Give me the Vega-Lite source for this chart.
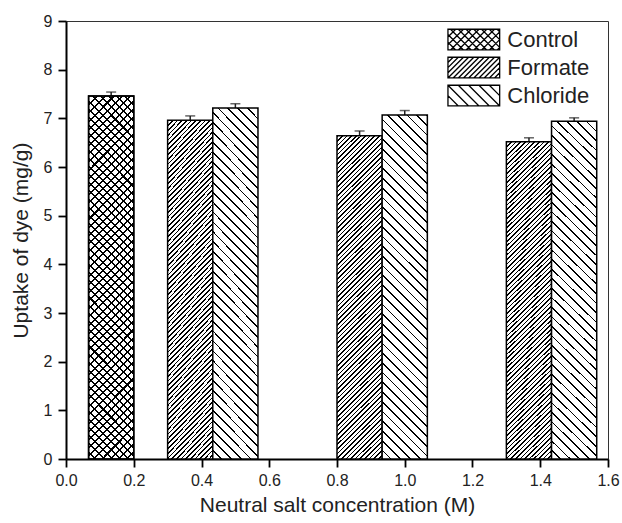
{
"$schema": "https://vega.github.io/schema/vega-lite/v6.json",
"width": 542, "height": 438,
"autosize": "none",
"padding": {"left": 66, "top": 21, "right": 14, "bottom": 64},
"background": "white",
"config": {
 "view": {"stroke": "#333", "strokeWidth": 1},
 "font": "Liberation Sans",
 "axis": {"domainColor": "black", "domainWidth": 2, "tickColor": "black", "tickWidth": 1.8, "labelFontSize": 16, "labelColor": "#222", "titleFontSize": 21, "titleFontWeight": "normal", "titleColor": "#222", "grid": false, "labelFont": "Liberation Sans", "titleFont": "Liberation Sans", "labelOverlap": false, "labelFlush": false, "labelBound": false}
},
"data": {"values": [
 {"salt": "Control", "conc": 0, "x0": 0.0667, "x1": 0.2, "xc": 0.1333, "uptake": 7.46, "hi": 7.54},
 {"salt": "Formate", "conc": 0.5, "x0": 0.3, "x1": 0.4333, "xc": 0.3667, "uptake": 6.96, "hi": 7.05},
 {"salt": "Chloride", "conc": 0.5, "x0": 0.4333, "x1": 0.5667, "xc": 0.5, "uptake": 7.21, "hi": 7.3},
 {"salt": "Formate", "conc": 1.0, "x0": 0.8, "x1": 0.9333, "xc": 0.8667, "uptake": 6.64, "hi": 6.74},
 {"salt": "Chloride", "conc": 1.0, "x0": 0.9333, "x1": 1.0667, "xc": 1.0, "uptake": 7.07, "hi": 7.16},
 {"salt": "Formate", "conc": 1.5, "x0": 1.3, "x1": 1.4333, "xc": 1.3667, "uptake": 6.52, "hi": 6.6},
 {"salt": "Chloride", "conc": 1.5, "x0": 1.4333, "x1": 1.5667, "xc": 1.5, "uptake": 6.94, "hi": 7.01}
]},
"layer": [
 {"mark": {"type": "point", "opacity": 0, "color": "black", "filled": false},
  "encoding": {
   "x": {"field": "xc", "type": "quantitative", "scale": {"domain": [0, 1.6], "nice": false}, "title": "Neutral salt concentration (M)",
    "axis": {"values": [0,0.1,0.2,0.3,0.4,0.5,0.6,0.7,0.8,0.9,1.0,1.1,1.2,1.3,1.4,1.5,1.6], "labelExpr": "round(datum.value*10)%2==0 ? format(datum.value,'.1f') : ''", "tickSize": {"condition": {"test": "round(datum.value*10)%2==0", "value": 8}, "value": 5}, "labelPadding": 5, "titlePadding": 6}},
   "y": {"field": "uptake", "type": "quantitative", "scale": {"domain": [0, 9], "nice": false}, "title": "Uptake of dye (mg/g)",
    "axis": {"values": [0,0.5,1,1.5,2,2.5,3,3.5,4,4.5,5,5.5,6,6.5,7,7.5,8,8.5,9], "labelExpr": "datum.value%1==0 ? format(datum.value,'d') : ''", "tickSize": {"condition": {"test": "datum.value%1==0", "value": 8}, "value": 5}, "labelPadding": 6, "titlePadding": 12}},
   "shape": {"field": "salt", "type": "nominal",
    "scale": {"domain": ["Control", "Formate", "Chloride"], "range": [
     "M-1,-1H4V1H-1Z M-1,-0.25L-0.25,-1 M-1,0.5L0.5,-1 M-0.75,1L1.25,-1 M0,1L2,-1 M0.75,1L2.75,-1 M1.5,1L3.5,-1 M2.25,1L4,-0.75 M3,1L4,0 M3.75,1L4,0.75 M-1,0.25L-0.25,1 M-1,-0.5L0.5,1 M-0.75,-1L1.25,1 M0,-1L2,1 M0.75,-1L2.75,1 M1.5,-1L3.5,1 M2.25,-1L4,0.75 M3,-1L4,0 M3.75,-1L4,-0.75",
     "M-1,-1H4V1H-1Z M-1,-0.5L-0.5,-1 M-1,0L0,-1 M-1,0.5L0.5,-1 M-1,1L1,-1 M-0.5,1L1.5,-1 M0,1L2,-1 M0.5,1L2.5,-1 M1,1L3,-1 M1.5,1L3.5,-1 M2,1L4,-1 M2.5,1L4,-0.5 M3,1L4,0 M3.5,1L4,0.5",
     "M-1,-1H4V1H-1Z M-1,0L0,1 M-1,-1L1,1 M0,-1L2,1 M1,-1L3,1 M2,-1L4,1 M3,-1L4,0"]},
    "legend": {"title": null, "orient": "none", "legendX": 381.3, "legendY": 7.6, "padding": 0, "symbolSize": 428, "symbolStrokeWidth": 1.3, "symbolOpacity": 1, "symbolStrokeColor": "black", "labelFontSize": 22, "labelOffset": 38, "rowPadding": 2, "labelColor": "#222", "labelFont": "Liberation Sans"}}
  }},
 {"mark": {"type": "rule", "color": "#222", "strokeWidth": 1.5},
  "encoding": {"x": {"field": "xc", "type": "quantitative"}, "y": {"field": "uptake", "type": "quantitative"}, "y2": {"field": "hi"}}},
 {"mark": {"type": "tick", "orient": "horizontal", "color": "#222", "size": 10, "thickness": 1.5},
  "encoding": {"x": {"field": "xc", "type": "quantitative"}, "y": {"field": "hi", "type": "quantitative"}}},
 {"transform": [{"filter": "datum.salt == 'Formate'"}],
  "mark": {"type": "bar", "stroke": "black", "strokeWidth": 1.5, "fill": {"gradient": "linear", "x1": 0, "y1": 0, "x2": 0.155, "y2": 1.117, "stops": [
{"offset":0,"color":"#000"},{"offset":0.0045,"color":"#000"},{"offset":0.0045,"color":"#fff"},{"offset":0.0125,"color":"#fff"},
{"offset":0.0125,"color":"#000"},{"offset":0.017,"color":"#000"},{"offset":0.017,"color":"#fff"},{"offset":0.025,"color":"#fff"},
{"offset":0.025,"color":"#000"},{"offset":0.0295,"color":"#000"},{"offset":0.0295,"color":"#fff"},{"offset":0.0375,"color":"#fff"},
{"offset":0.0375,"color":"#000"},{"offset":0.042,"color":"#000"},{"offset":0.042,"color":"#fff"},{"offset":0.05,"color":"#fff"},
{"offset":0.05,"color":"#000"},{"offset":0.0545,"color":"#000"},{"offset":0.0545,"color":"#fff"},{"offset":0.0625,"color":"#fff"},
{"offset":0.0625,"color":"#000"},{"offset":0.067,"color":"#000"},{"offset":0.067,"color":"#fff"},{"offset":0.075,"color":"#fff"},
{"offset":0.075,"color":"#000"},{"offset":0.0795,"color":"#000"},{"offset":0.0795,"color":"#fff"},{"offset":0.0875,"color":"#fff"},
{"offset":0.0875,"color":"#000"},{"offset":0.092,"color":"#000"},{"offset":0.092,"color":"#fff"},{"offset":0.1,"color":"#fff"},
{"offset":0.1,"color":"#000"},{"offset":0.1045,"color":"#000"},{"offset":0.1045,"color":"#fff"},{"offset":0.1125,"color":"#fff"},
{"offset":0.1125,"color":"#000"},{"offset":0.117,"color":"#000"},{"offset":0.117,"color":"#fff"},{"offset":0.125,"color":"#fff"},
{"offset":0.125,"color":"#000"},{"offset":0.1295,"color":"#000"},{"offset":0.1295,"color":"#fff"},{"offset":0.1375,"color":"#fff"},
{"offset":0.1375,"color":"#000"},{"offset":0.142,"color":"#000"},{"offset":0.142,"color":"#fff"},{"offset":0.15,"color":"#fff"},
{"offset":0.15,"color":"#000"},{"offset":0.1545,"color":"#000"},{"offset":0.1545,"color":"#fff"},{"offset":0.1625,"color":"#fff"},
{"offset":0.1625,"color":"#000"},{"offset":0.167,"color":"#000"},{"offset":0.167,"color":"#fff"},{"offset":0.175,"color":"#fff"},
{"offset":0.175,"color":"#000"},{"offset":0.1795,"color":"#000"},{"offset":0.1795,"color":"#fff"},{"offset":0.1875,"color":"#fff"},
{"offset":0.1875,"color":"#000"},{"offset":0.192,"color":"#000"},{"offset":0.192,"color":"#fff"},{"offset":0.2,"color":"#fff"},
{"offset":0.2,"color":"#000"},{"offset":0.2045,"color":"#000"},{"offset":0.2045,"color":"#fff"},{"offset":0.2125,"color":"#fff"},
{"offset":0.2125,"color":"#000"},{"offset":0.217,"color":"#000"},{"offset":0.217,"color":"#fff"},{"offset":0.225,"color":"#fff"},
{"offset":0.225,"color":"#000"},{"offset":0.2295,"color":"#000"},{"offset":0.2295,"color":"#fff"},{"offset":0.2375,"color":"#fff"},
{"offset":0.2375,"color":"#000"},{"offset":0.242,"color":"#000"},{"offset":0.242,"color":"#fff"},{"offset":0.25,"color":"#fff"},
{"offset":0.25,"color":"#000"},{"offset":0.2545,"color":"#000"},{"offset":0.2545,"color":"#fff"},{"offset":0.2625,"color":"#fff"},
{"offset":0.2625,"color":"#000"},{"offset":0.267,"color":"#000"},{"offset":0.267,"color":"#fff"},{"offset":0.275,"color":"#fff"},
{"offset":0.275,"color":"#000"},{"offset":0.2795,"color":"#000"},{"offset":0.2795,"color":"#fff"},{"offset":0.2875,"color":"#fff"},
{"offset":0.2875,"color":"#000"},{"offset":0.292,"color":"#000"},{"offset":0.292,"color":"#fff"},{"offset":0.3,"color":"#fff"},
{"offset":0.3,"color":"#000"},{"offset":0.3045,"color":"#000"},{"offset":0.3045,"color":"#fff"},{"offset":0.3125,"color":"#fff"},
{"offset":0.3125,"color":"#000"},{"offset":0.317,"color":"#000"},{"offset":0.317,"color":"#fff"},{"offset":0.325,"color":"#fff"},
{"offset":0.325,"color":"#000"},{"offset":0.3295,"color":"#000"},{"offset":0.3295,"color":"#fff"},{"offset":0.3375,"color":"#fff"},
{"offset":0.3375,"color":"#000"},{"offset":0.342,"color":"#000"},{"offset":0.342,"color":"#fff"},{"offset":0.35,"color":"#fff"},
{"offset":0.35,"color":"#000"},{"offset":0.3545,"color":"#000"},{"offset":0.3545,"color":"#fff"},{"offset":0.3625,"color":"#fff"},
{"offset":0.3625,"color":"#000"},{"offset":0.367,"color":"#000"},{"offset":0.367,"color":"#fff"},{"offset":0.375,"color":"#fff"},
{"offset":0.375,"color":"#000"},{"offset":0.3795,"color":"#000"},{"offset":0.3795,"color":"#fff"},{"offset":0.3875,"color":"#fff"},
{"offset":0.3875,"color":"#000"},{"offset":0.392,"color":"#000"},{"offset":0.392,"color":"#fff"},{"offset":0.4,"color":"#fff"},
{"offset":0.4,"color":"#000"},{"offset":0.4045,"color":"#000"},{"offset":0.4045,"color":"#fff"},{"offset":0.4125,"color":"#fff"},
{"offset":0.4125,"color":"#000"},{"offset":0.417,"color":"#000"},{"offset":0.417,"color":"#fff"},{"offset":0.425,"color":"#fff"},
{"offset":0.425,"color":"#000"},{"offset":0.4295,"color":"#000"},{"offset":0.4295,"color":"#fff"},{"offset":0.4375,"color":"#fff"},
{"offset":0.4375,"color":"#000"},{"offset":0.442,"color":"#000"},{"offset":0.442,"color":"#fff"},{"offset":0.45,"color":"#fff"},
{"offset":0.45,"color":"#000"},{"offset":0.4545,"color":"#000"},{"offset":0.4545,"color":"#fff"},{"offset":0.4625,"color":"#fff"},
{"offset":0.4625,"color":"#000"},{"offset":0.467,"color":"#000"},{"offset":0.467,"color":"#fff"},{"offset":0.475,"color":"#fff"},
{"offset":0.475,"color":"#000"},{"offset":0.4795,"color":"#000"},{"offset":0.4795,"color":"#fff"},{"offset":0.4875,"color":"#fff"},
{"offset":0.4875,"color":"#000"},{"offset":0.492,"color":"#000"},{"offset":0.492,"color":"#fff"},{"offset":0.5,"color":"#fff"},
{"offset":0.5,"color":"#000"},{"offset":0.5045,"color":"#000"},{"offset":0.5045,"color":"#fff"},{"offset":0.5125,"color":"#fff"},
{"offset":0.5125,"color":"#000"},{"offset":0.517,"color":"#000"},{"offset":0.517,"color":"#fff"},{"offset":0.525,"color":"#fff"},
{"offset":0.525,"color":"#000"},{"offset":0.5295,"color":"#000"},{"offset":0.5295,"color":"#fff"},{"offset":0.5375,"color":"#fff"},
{"offset":0.5375,"color":"#000"},{"offset":0.542,"color":"#000"},{"offset":0.542,"color":"#fff"},{"offset":0.55,"color":"#fff"},
{"offset":0.55,"color":"#000"},{"offset":0.5545,"color":"#000"},{"offset":0.5545,"color":"#fff"},{"offset":0.5625,"color":"#fff"},
{"offset":0.5625,"color":"#000"},{"offset":0.567,"color":"#000"},{"offset":0.567,"color":"#fff"},{"offset":0.575,"color":"#fff"},
{"offset":0.575,"color":"#000"},{"offset":0.5795,"color":"#000"},{"offset":0.5795,"color":"#fff"},{"offset":0.5875,"color":"#fff"},
{"offset":0.5875,"color":"#000"},{"offset":0.592,"color":"#000"},{"offset":0.592,"color":"#fff"},{"offset":0.6,"color":"#fff"},
{"offset":0.6,"color":"#000"},{"offset":0.6045,"color":"#000"},{"offset":0.6045,"color":"#fff"},{"offset":0.6125,"color":"#fff"},
{"offset":0.6125,"color":"#000"},{"offset":0.617,"color":"#000"},{"offset":0.617,"color":"#fff"},{"offset":0.625,"color":"#fff"},
{"offset":0.625,"color":"#000"},{"offset":0.6295,"color":"#000"},{"offset":0.6295,"color":"#fff"},{"offset":0.6375,"color":"#fff"},
{"offset":0.6375,"color":"#000"},{"offset":0.642,"color":"#000"},{"offset":0.642,"color":"#fff"},{"offset":0.65,"color":"#fff"},
{"offset":0.65,"color":"#000"},{"offset":0.6545,"color":"#000"},{"offset":0.6545,"color":"#fff"},{"offset":0.6625,"color":"#fff"},
{"offset":0.6625,"color":"#000"},{"offset":0.667,"color":"#000"},{"offset":0.667,"color":"#fff"},{"offset":0.675,"color":"#fff"},
{"offset":0.675,"color":"#000"},{"offset":0.6795,"color":"#000"},{"offset":0.6795,"color":"#fff"},{"offset":0.6875,"color":"#fff"},
{"offset":0.6875,"color":"#000"},{"offset":0.692,"color":"#000"},{"offset":0.692,"color":"#fff"},{"offset":0.7,"color":"#fff"},
{"offset":0.7,"color":"#000"},{"offset":0.7045,"color":"#000"},{"offset":0.7045,"color":"#fff"},{"offset":0.7125,"color":"#fff"},
{"offset":0.7125,"color":"#000"},{"offset":0.717,"color":"#000"},{"offset":0.717,"color":"#fff"},{"offset":0.725,"color":"#fff"},
{"offset":0.725,"color":"#000"},{"offset":0.7295,"color":"#000"},{"offset":0.7295,"color":"#fff"},{"offset":0.7375,"color":"#fff"},
{"offset":0.7375,"color":"#000"},{"offset":0.742,"color":"#000"},{"offset":0.742,"color":"#fff"},{"offset":0.75,"color":"#fff"},
{"offset":0.75,"color":"#000"},{"offset":0.7545,"color":"#000"},{"offset":0.7545,"color":"#fff"},{"offset":0.7625,"color":"#fff"},
{"offset":0.7625,"color":"#000"},{"offset":0.767,"color":"#000"},{"offset":0.767,"color":"#fff"},{"offset":0.775,"color":"#fff"},
{"offset":0.775,"color":"#000"},{"offset":0.7795,"color":"#000"},{"offset":0.7795,"color":"#fff"},{"offset":0.7875,"color":"#fff"},
{"offset":0.7875,"color":"#000"},{"offset":0.792,"color":"#000"},{"offset":0.792,"color":"#fff"},{"offset":0.8,"color":"#fff"},
{"offset":0.8,"color":"#000"},{"offset":0.8045,"color":"#000"},{"offset":0.8045,"color":"#fff"},{"offset":0.8125,"color":"#fff"},
{"offset":0.8125,"color":"#000"},{"offset":0.817,"color":"#000"},{"offset":0.817,"color":"#fff"},{"offset":0.825,"color":"#fff"},
{"offset":0.825,"color":"#000"},{"offset":0.8295,"color":"#000"},{"offset":0.8295,"color":"#fff"},{"offset":0.8375,"color":"#fff"},
{"offset":0.8375,"color":"#000"},{"offset":0.842,"color":"#000"},{"offset":0.842,"color":"#fff"},{"offset":0.85,"color":"#fff"},
{"offset":0.85,"color":"#000"},{"offset":0.8545,"color":"#000"},{"offset":0.8545,"color":"#fff"},{"offset":0.8625,"color":"#fff"},
{"offset":0.8625,"color":"#000"},{"offset":0.867,"color":"#000"},{"offset":0.867,"color":"#fff"},{"offset":0.875,"color":"#fff"},
{"offset":0.875,"color":"#000"},{"offset":0.8795,"color":"#000"},{"offset":0.8795,"color":"#fff"},{"offset":0.8875,"color":"#fff"},
{"offset":0.8875,"color":"#000"},{"offset":0.892,"color":"#000"},{"offset":0.892,"color":"#fff"},{"offset":0.9,"color":"#fff"},
{"offset":0.9,"color":"#000"},{"offset":0.9045,"color":"#000"},{"offset":0.9045,"color":"#fff"},{"offset":0.9125,"color":"#fff"},
{"offset":0.9125,"color":"#000"},{"offset":0.917,"color":"#000"},{"offset":0.917,"color":"#fff"},{"offset":0.925,"color":"#fff"},
{"offset":0.925,"color":"#000"},{"offset":0.9295,"color":"#000"},{"offset":0.9295,"color":"#fff"},{"offset":0.9375,"color":"#fff"},
{"offset":0.9375,"color":"#000"},{"offset":0.942,"color":"#000"},{"offset":0.942,"color":"#fff"},{"offset":0.95,"color":"#fff"},
{"offset":0.95,"color":"#000"},{"offset":0.9545,"color":"#000"},{"offset":0.9545,"color":"#fff"},{"offset":0.9625,"color":"#fff"},
{"offset":0.9625,"color":"#000"},{"offset":0.967,"color":"#000"},{"offset":0.967,"color":"#fff"},{"offset":0.975,"color":"#fff"},
{"offset":0.975,"color":"#000"},{"offset":0.9795,"color":"#000"},{"offset":0.9795,"color":"#fff"},{"offset":0.9875,"color":"#fff"},
{"offset":0.9875,"color":"#000"},{"offset":0.992,"color":"#000"},{"offset":0.992,"color":"#fff"},{"offset":1,"color":"#fff"}
  ]}},
  "encoding": {"x": {"field": "x0", "type": "quantitative"}, "x2": {"field": "x1"}, "y": {"field": "uptake", "type": "quantitative"}, "y2": {"datum": 0}}},
 {"transform": [{"filter": "datum.salt == 'Chloride'"}],
  "mark": {"type": "bar", "stroke": "black", "strokeWidth": 1.5, "fill": {"gradient": "linear", "x1": 1, "y1": 0, "x2": 0.854, "y2": 1.112, "stops": [
{"offset":0,"color":"#000"},{"offset":0.0045,"color":"#000"},{"offset":0.0045,"color":"#fff"},{"offset":0.025,"color":"#fff"},
{"offset":0.025,"color":"#000"},{"offset":0.0295,"color":"#000"},{"offset":0.0295,"color":"#fff"},{"offset":0.05,"color":"#fff"},
{"offset":0.05,"color":"#000"},{"offset":0.0545,"color":"#000"},{"offset":0.0545,"color":"#fff"},{"offset":0.075,"color":"#fff"},
{"offset":0.075,"color":"#000"},{"offset":0.0795,"color":"#000"},{"offset":0.0795,"color":"#fff"},{"offset":0.1,"color":"#fff"},
{"offset":0.1,"color":"#000"},{"offset":0.1045,"color":"#000"},{"offset":0.1045,"color":"#fff"},{"offset":0.125,"color":"#fff"},
{"offset":0.125,"color":"#000"},{"offset":0.1295,"color":"#000"},{"offset":0.1295,"color":"#fff"},{"offset":0.15,"color":"#fff"},
{"offset":0.15,"color":"#000"},{"offset":0.1545,"color":"#000"},{"offset":0.1545,"color":"#fff"},{"offset":0.175,"color":"#fff"},
{"offset":0.175,"color":"#000"},{"offset":0.1795,"color":"#000"},{"offset":0.1795,"color":"#fff"},{"offset":0.2,"color":"#fff"},
{"offset":0.2,"color":"#000"},{"offset":0.2045,"color":"#000"},{"offset":0.2045,"color":"#fff"},{"offset":0.225,"color":"#fff"},
{"offset":0.225,"color":"#000"},{"offset":0.2295,"color":"#000"},{"offset":0.2295,"color":"#fff"},{"offset":0.25,"color":"#fff"},
{"offset":0.25,"color":"#000"},{"offset":0.2545,"color":"#000"},{"offset":0.2545,"color":"#fff"},{"offset":0.275,"color":"#fff"},
{"offset":0.275,"color":"#000"},{"offset":0.2795,"color":"#000"},{"offset":0.2795,"color":"#fff"},{"offset":0.3,"color":"#fff"},
{"offset":0.3,"color":"#000"},{"offset":0.3045,"color":"#000"},{"offset":0.3045,"color":"#fff"},{"offset":0.325,"color":"#fff"},
{"offset":0.325,"color":"#000"},{"offset":0.3295,"color":"#000"},{"offset":0.3295,"color":"#fff"},{"offset":0.35,"color":"#fff"},
{"offset":0.35,"color":"#000"},{"offset":0.3545,"color":"#000"},{"offset":0.3545,"color":"#fff"},{"offset":0.375,"color":"#fff"},
{"offset":0.375,"color":"#000"},{"offset":0.3795,"color":"#000"},{"offset":0.3795,"color":"#fff"},{"offset":0.4,"color":"#fff"},
{"offset":0.4,"color":"#000"},{"offset":0.4045,"color":"#000"},{"offset":0.4045,"color":"#fff"},{"offset":0.425,"color":"#fff"},
{"offset":0.425,"color":"#000"},{"offset":0.4295,"color":"#000"},{"offset":0.4295,"color":"#fff"},{"offset":0.45,"color":"#fff"},
{"offset":0.45,"color":"#000"},{"offset":0.4545,"color":"#000"},{"offset":0.4545,"color":"#fff"},{"offset":0.475,"color":"#fff"},
{"offset":0.475,"color":"#000"},{"offset":0.4795,"color":"#000"},{"offset":0.4795,"color":"#fff"},{"offset":0.5,"color":"#fff"},
{"offset":0.5,"color":"#000"},{"offset":0.5045,"color":"#000"},{"offset":0.5045,"color":"#fff"},{"offset":0.525,"color":"#fff"},
{"offset":0.525,"color":"#000"},{"offset":0.5295,"color":"#000"},{"offset":0.5295,"color":"#fff"},{"offset":0.55,"color":"#fff"},
{"offset":0.55,"color":"#000"},{"offset":0.5545,"color":"#000"},{"offset":0.5545,"color":"#fff"},{"offset":0.575,"color":"#fff"},
{"offset":0.575,"color":"#000"},{"offset":0.5795,"color":"#000"},{"offset":0.5795,"color":"#fff"},{"offset":0.6,"color":"#fff"},
{"offset":0.6,"color":"#000"},{"offset":0.6045,"color":"#000"},{"offset":0.6045,"color":"#fff"},{"offset":0.625,"color":"#fff"},
{"offset":0.625,"color":"#000"},{"offset":0.6295,"color":"#000"},{"offset":0.6295,"color":"#fff"},{"offset":0.65,"color":"#fff"},
{"offset":0.65,"color":"#000"},{"offset":0.6545,"color":"#000"},{"offset":0.6545,"color":"#fff"},{"offset":0.675,"color":"#fff"},
{"offset":0.675,"color":"#000"},{"offset":0.6795,"color":"#000"},{"offset":0.6795,"color":"#fff"},{"offset":0.7,"color":"#fff"},
{"offset":0.7,"color":"#000"},{"offset":0.7045,"color":"#000"},{"offset":0.7045,"color":"#fff"},{"offset":0.725,"color":"#fff"},
{"offset":0.725,"color":"#000"},{"offset":0.7295,"color":"#000"},{"offset":0.7295,"color":"#fff"},{"offset":0.75,"color":"#fff"},
{"offset":0.75,"color":"#000"},{"offset":0.7545,"color":"#000"},{"offset":0.7545,"color":"#fff"},{"offset":0.775,"color":"#fff"},
{"offset":0.775,"color":"#000"},{"offset":0.7795,"color":"#000"},{"offset":0.7795,"color":"#fff"},{"offset":0.8,"color":"#fff"},
{"offset":0.8,"color":"#000"},{"offset":0.8045,"color":"#000"},{"offset":0.8045,"color":"#fff"},{"offset":0.825,"color":"#fff"},
{"offset":0.825,"color":"#000"},{"offset":0.8295,"color":"#000"},{"offset":0.8295,"color":"#fff"},{"offset":0.85,"color":"#fff"},
{"offset":0.85,"color":"#000"},{"offset":0.8545,"color":"#000"},{"offset":0.8545,"color":"#fff"},{"offset":0.875,"color":"#fff"},
{"offset":0.875,"color":"#000"},{"offset":0.8795,"color":"#000"},{"offset":0.8795,"color":"#fff"},{"offset":0.9,"color":"#fff"},
{"offset":0.9,"color":"#000"},{"offset":0.9045,"color":"#000"},{"offset":0.9045,"color":"#fff"},{"offset":0.925,"color":"#fff"},
{"offset":0.925,"color":"#000"},{"offset":0.9295,"color":"#000"},{"offset":0.9295,"color":"#fff"},{"offset":0.95,"color":"#fff"},
{"offset":0.95,"color":"#000"},{"offset":0.9545,"color":"#000"},{"offset":0.9545,"color":"#fff"},{"offset":0.975,"color":"#fff"},
{"offset":0.975,"color":"#000"},{"offset":0.9795,"color":"#000"},{"offset":0.9795,"color":"#fff"},{"offset":1,"color":"#fff"}
  ]}},
  "encoding": {"x": {"field": "x0", "type": "quantitative"}, "x2": {"field": "x1"}, "y": {"field": "uptake", "type": "quantitative"}, "y2": {"datum": 0}}},
 {"transform": [{"filter": "datum.salt == 'Control'"}],
  "mark": {"type": "bar", "stroke": "black", "strokeWidth": 1.5, "fill": {"gradient": "linear", "x1": 0, "y1": 0, "x2": 0.138, "y2": 1.107, "stops": [
{"offset":0,"color":"#000"},{"offset":0.005,"color":"#000"},{"offset":0.005,"color":"#fff"},{"offset":0.02,"color":"#fff"},
{"offset":0.02,"color":"#000"},{"offset":0.025,"color":"#000"},{"offset":0.025,"color":"#fff"},{"offset":0.04,"color":"#fff"},
{"offset":0.04,"color":"#000"},{"offset":0.045,"color":"#000"},{"offset":0.045,"color":"#fff"},{"offset":0.06,"color":"#fff"},
{"offset":0.06,"color":"#000"},{"offset":0.065,"color":"#000"},{"offset":0.065,"color":"#fff"},{"offset":0.08,"color":"#fff"},
{"offset":0.08,"color":"#000"},{"offset":0.085,"color":"#000"},{"offset":0.085,"color":"#fff"},{"offset":0.1,"color":"#fff"},
{"offset":0.1,"color":"#000"},{"offset":0.105,"color":"#000"},{"offset":0.105,"color":"#fff"},{"offset":0.12,"color":"#fff"},
{"offset":0.12,"color":"#000"},{"offset":0.125,"color":"#000"},{"offset":0.125,"color":"#fff"},{"offset":0.14,"color":"#fff"},
{"offset":0.14,"color":"#000"},{"offset":0.145,"color":"#000"},{"offset":0.145,"color":"#fff"},{"offset":0.16,"color":"#fff"},
{"offset":0.16,"color":"#000"},{"offset":0.165,"color":"#000"},{"offset":0.165,"color":"#fff"},{"offset":0.18,"color":"#fff"},
{"offset":0.18,"color":"#000"},{"offset":0.185,"color":"#000"},{"offset":0.185,"color":"#fff"},{"offset":0.2,"color":"#fff"},
{"offset":0.2,"color":"#000"},{"offset":0.205,"color":"#000"},{"offset":0.205,"color":"#fff"},{"offset":0.22,"color":"#fff"},
{"offset":0.22,"color":"#000"},{"offset":0.225,"color":"#000"},{"offset":0.225,"color":"#fff"},{"offset":0.24,"color":"#fff"},
{"offset":0.24,"color":"#000"},{"offset":0.245,"color":"#000"},{"offset":0.245,"color":"#fff"},{"offset":0.26,"color":"#fff"},
{"offset":0.26,"color":"#000"},{"offset":0.265,"color":"#000"},{"offset":0.265,"color":"#fff"},{"offset":0.28,"color":"#fff"},
{"offset":0.28,"color":"#000"},{"offset":0.285,"color":"#000"},{"offset":0.285,"color":"#fff"},{"offset":0.3,"color":"#fff"},
{"offset":0.3,"color":"#000"},{"offset":0.305,"color":"#000"},{"offset":0.305,"color":"#fff"},{"offset":0.32,"color":"#fff"},
{"offset":0.32,"color":"#000"},{"offset":0.325,"color":"#000"},{"offset":0.325,"color":"#fff"},{"offset":0.34,"color":"#fff"},
{"offset":0.34,"color":"#000"},{"offset":0.345,"color":"#000"},{"offset":0.345,"color":"#fff"},{"offset":0.36,"color":"#fff"},
{"offset":0.36,"color":"#000"},{"offset":0.365,"color":"#000"},{"offset":0.365,"color":"#fff"},{"offset":0.38,"color":"#fff"},
{"offset":0.38,"color":"#000"},{"offset":0.385,"color":"#000"},{"offset":0.385,"color":"#fff"},{"offset":0.4,"color":"#fff"},
{"offset":0.4,"color":"#000"},{"offset":0.405,"color":"#000"},{"offset":0.405,"color":"#fff"},{"offset":0.42,"color":"#fff"},
{"offset":0.42,"color":"#000"},{"offset":0.425,"color":"#000"},{"offset":0.425,"color":"#fff"},{"offset":0.44,"color":"#fff"},
{"offset":0.44,"color":"#000"},{"offset":0.445,"color":"#000"},{"offset":0.445,"color":"#fff"},{"offset":0.46,"color":"#fff"},
{"offset":0.46,"color":"#000"},{"offset":0.465,"color":"#000"},{"offset":0.465,"color":"#fff"},{"offset":0.48,"color":"#fff"},
{"offset":0.48,"color":"#000"},{"offset":0.485,"color":"#000"},{"offset":0.485,"color":"#fff"},{"offset":0.5,"color":"#fff"},
{"offset":0.5,"color":"#000"},{"offset":0.505,"color":"#000"},{"offset":0.505,"color":"#fff"},{"offset":0.52,"color":"#fff"},
{"offset":0.52,"color":"#000"},{"offset":0.525,"color":"#000"},{"offset":0.525,"color":"#fff"},{"offset":0.54,"color":"#fff"},
{"offset":0.54,"color":"#000"},{"offset":0.545,"color":"#000"},{"offset":0.545,"color":"#fff"},{"offset":0.56,"color":"#fff"},
{"offset":0.56,"color":"#000"},{"offset":0.565,"color":"#000"},{"offset":0.565,"color":"#fff"},{"offset":0.58,"color":"#fff"},
{"offset":0.58,"color":"#000"},{"offset":0.585,"color":"#000"},{"offset":0.585,"color":"#fff"},{"offset":0.6,"color":"#fff"},
{"offset":0.6,"color":"#000"},{"offset":0.605,"color":"#000"},{"offset":0.605,"color":"#fff"},{"offset":0.62,"color":"#fff"},
{"offset":0.62,"color":"#000"},{"offset":0.625,"color":"#000"},{"offset":0.625,"color":"#fff"},{"offset":0.64,"color":"#fff"},
{"offset":0.64,"color":"#000"},{"offset":0.645,"color":"#000"},{"offset":0.645,"color":"#fff"},{"offset":0.66,"color":"#fff"},
{"offset":0.66,"color":"#000"},{"offset":0.665,"color":"#000"},{"offset":0.665,"color":"#fff"},{"offset":0.68,"color":"#fff"},
{"offset":0.68,"color":"#000"},{"offset":0.685,"color":"#000"},{"offset":0.685,"color":"#fff"},{"offset":0.7,"color":"#fff"},
{"offset":0.7,"color":"#000"},{"offset":0.705,"color":"#000"},{"offset":0.705,"color":"#fff"},{"offset":0.72,"color":"#fff"},
{"offset":0.72,"color":"#000"},{"offset":0.725,"color":"#000"},{"offset":0.725,"color":"#fff"},{"offset":0.74,"color":"#fff"},
{"offset":0.74,"color":"#000"},{"offset":0.745,"color":"#000"},{"offset":0.745,"color":"#fff"},{"offset":0.76,"color":"#fff"},
{"offset":0.76,"color":"#000"},{"offset":0.765,"color":"#000"},{"offset":0.765,"color":"#fff"},{"offset":0.78,"color":"#fff"},
{"offset":0.78,"color":"#000"},{"offset":0.785,"color":"#000"},{"offset":0.785,"color":"#fff"},{"offset":0.8,"color":"#fff"},
{"offset":0.8,"color":"#000"},{"offset":0.805,"color":"#000"},{"offset":0.805,"color":"#fff"},{"offset":0.82,"color":"#fff"},
{"offset":0.82,"color":"#000"},{"offset":0.825,"color":"#000"},{"offset":0.825,"color":"#fff"},{"offset":0.84,"color":"#fff"},
{"offset":0.84,"color":"#000"},{"offset":0.845,"color":"#000"},{"offset":0.845,"color":"#fff"},{"offset":0.86,"color":"#fff"},
{"offset":0.86,"color":"#000"},{"offset":0.865,"color":"#000"},{"offset":0.865,"color":"#fff"},{"offset":0.88,"color":"#fff"},
{"offset":0.88,"color":"#000"},{"offset":0.885,"color":"#000"},{"offset":0.885,"color":"#fff"},{"offset":0.9,"color":"#fff"},
{"offset":0.9,"color":"#000"},{"offset":0.905,"color":"#000"},{"offset":0.905,"color":"#fff"},{"offset":0.92,"color":"#fff"},
{"offset":0.92,"color":"#000"},{"offset":0.925,"color":"#000"},{"offset":0.925,"color":"#fff"},{"offset":0.94,"color":"#fff"},
{"offset":0.94,"color":"#000"},{"offset":0.945,"color":"#000"},{"offset":0.945,"color":"#fff"},{"offset":0.96,"color":"#fff"},
{"offset":0.96,"color":"#000"},{"offset":0.965,"color":"#000"},{"offset":0.965,"color":"#fff"},{"offset":0.98,"color":"#fff"},
{"offset":0.98,"color":"#000"},{"offset":0.985,"color":"#000"},{"offset":0.985,"color":"#fff"},{"offset":1,"color":"#fff"}
  ]}},
  "encoding": {"x": {"field": "x0", "type": "quantitative"}, "x2": {"field": "x1"}, "y": {"field": "uptake", "type": "quantitative"}, "y2": {"datum": 0}}},
 {"transform": [{"filter": "datum.salt == 'Control'"}],
  "mark": {"type": "bar", "stroke": "black", "strokeWidth": 1.5, "fill": {"gradient": "linear", "x1": 1, "y1": 0, "x2": 0.862, "y2": 1.107, "stops": [
{"offset":0,"color":"#000"},{"offset":0.005,"color":"#000"},{"offset":0.005,"color":"transparent"},{"offset":0.02,"color":"transparent"},
{"offset":0.02,"color":"#000"},{"offset":0.025,"color":"#000"},{"offset":0.025,"color":"transparent"},{"offset":0.04,"color":"transparent"},
{"offset":0.04,"color":"#000"},{"offset":0.045,"color":"#000"},{"offset":0.045,"color":"transparent"},{"offset":0.06,"color":"transparent"},
{"offset":0.06,"color":"#000"},{"offset":0.065,"color":"#000"},{"offset":0.065,"color":"transparent"},{"offset":0.08,"color":"transparent"},
{"offset":0.08,"color":"#000"},{"offset":0.085,"color":"#000"},{"offset":0.085,"color":"transparent"},{"offset":0.1,"color":"transparent"},
{"offset":0.1,"color":"#000"},{"offset":0.105,"color":"#000"},{"offset":0.105,"color":"transparent"},{"offset":0.12,"color":"transparent"},
{"offset":0.12,"color":"#000"},{"offset":0.125,"color":"#000"},{"offset":0.125,"color":"transparent"},{"offset":0.14,"color":"transparent"},
{"offset":0.14,"color":"#000"},{"offset":0.145,"color":"#000"},{"offset":0.145,"color":"transparent"},{"offset":0.16,"color":"transparent"},
{"offset":0.16,"color":"#000"},{"offset":0.165,"color":"#000"},{"offset":0.165,"color":"transparent"},{"offset":0.18,"color":"transparent"},
{"offset":0.18,"color":"#000"},{"offset":0.185,"color":"#000"},{"offset":0.185,"color":"transparent"},{"offset":0.2,"color":"transparent"},
{"offset":0.2,"color":"#000"},{"offset":0.205,"color":"#000"},{"offset":0.205,"color":"transparent"},{"offset":0.22,"color":"transparent"},
{"offset":0.22,"color":"#000"},{"offset":0.225,"color":"#000"},{"offset":0.225,"color":"transparent"},{"offset":0.24,"color":"transparent"},
{"offset":0.24,"color":"#000"},{"offset":0.245,"color":"#000"},{"offset":0.245,"color":"transparent"},{"offset":0.26,"color":"transparent"},
{"offset":0.26,"color":"#000"},{"offset":0.265,"color":"#000"},{"offset":0.265,"color":"transparent"},{"offset":0.28,"color":"transparent"},
{"offset":0.28,"color":"#000"},{"offset":0.285,"color":"#000"},{"offset":0.285,"color":"transparent"},{"offset":0.3,"color":"transparent"},
{"offset":0.3,"color":"#000"},{"offset":0.305,"color":"#000"},{"offset":0.305,"color":"transparent"},{"offset":0.32,"color":"transparent"},
{"offset":0.32,"color":"#000"},{"offset":0.325,"color":"#000"},{"offset":0.325,"color":"transparent"},{"offset":0.34,"color":"transparent"},
{"offset":0.34,"color":"#000"},{"offset":0.345,"color":"#000"},{"offset":0.345,"color":"transparent"},{"offset":0.36,"color":"transparent"},
{"offset":0.36,"color":"#000"},{"offset":0.365,"color":"#000"},{"offset":0.365,"color":"transparent"},{"offset":0.38,"color":"transparent"},
{"offset":0.38,"color":"#000"},{"offset":0.385,"color":"#000"},{"offset":0.385,"color":"transparent"},{"offset":0.4,"color":"transparent"},
{"offset":0.4,"color":"#000"},{"offset":0.405,"color":"#000"},{"offset":0.405,"color":"transparent"},{"offset":0.42,"color":"transparent"},
{"offset":0.42,"color":"#000"},{"offset":0.425,"color":"#000"},{"offset":0.425,"color":"transparent"},{"offset":0.44,"color":"transparent"},
{"offset":0.44,"color":"#000"},{"offset":0.445,"color":"#000"},{"offset":0.445,"color":"transparent"},{"offset":0.46,"color":"transparent"},
{"offset":0.46,"color":"#000"},{"offset":0.465,"color":"#000"},{"offset":0.465,"color":"transparent"},{"offset":0.48,"color":"transparent"},
{"offset":0.48,"color":"#000"},{"offset":0.485,"color":"#000"},{"offset":0.485,"color":"transparent"},{"offset":0.5,"color":"transparent"},
{"offset":0.5,"color":"#000"},{"offset":0.505,"color":"#000"},{"offset":0.505,"color":"transparent"},{"offset":0.52,"color":"transparent"},
{"offset":0.52,"color":"#000"},{"offset":0.525,"color":"#000"},{"offset":0.525,"color":"transparent"},{"offset":0.54,"color":"transparent"},
{"offset":0.54,"color":"#000"},{"offset":0.545,"color":"#000"},{"offset":0.545,"color":"transparent"},{"offset":0.56,"color":"transparent"},
{"offset":0.56,"color":"#000"},{"offset":0.565,"color":"#000"},{"offset":0.565,"color":"transparent"},{"offset":0.58,"color":"transparent"},
{"offset":0.58,"color":"#000"},{"offset":0.585,"color":"#000"},{"offset":0.585,"color":"transparent"},{"offset":0.6,"color":"transparent"},
{"offset":0.6,"color":"#000"},{"offset":0.605,"color":"#000"},{"offset":0.605,"color":"transparent"},{"offset":0.62,"color":"transparent"},
{"offset":0.62,"color":"#000"},{"offset":0.625,"color":"#000"},{"offset":0.625,"color":"transparent"},{"offset":0.64,"color":"transparent"},
{"offset":0.64,"color":"#000"},{"offset":0.645,"color":"#000"},{"offset":0.645,"color":"transparent"},{"offset":0.66,"color":"transparent"},
{"offset":0.66,"color":"#000"},{"offset":0.665,"color":"#000"},{"offset":0.665,"color":"transparent"},{"offset":0.68,"color":"transparent"},
{"offset":0.68,"color":"#000"},{"offset":0.685,"color":"#000"},{"offset":0.685,"color":"transparent"},{"offset":0.7,"color":"transparent"},
{"offset":0.7,"color":"#000"},{"offset":0.705,"color":"#000"},{"offset":0.705,"color":"transparent"},{"offset":0.72,"color":"transparent"},
{"offset":0.72,"color":"#000"},{"offset":0.725,"color":"#000"},{"offset":0.725,"color":"transparent"},{"offset":0.74,"color":"transparent"},
{"offset":0.74,"color":"#000"},{"offset":0.745,"color":"#000"},{"offset":0.745,"color":"transparent"},{"offset":0.76,"color":"transparent"},
{"offset":0.76,"color":"#000"},{"offset":0.765,"color":"#000"},{"offset":0.765,"color":"transparent"},{"offset":0.78,"color":"transparent"},
{"offset":0.78,"color":"#000"},{"offset":0.785,"color":"#000"},{"offset":0.785,"color":"transparent"},{"offset":0.8,"color":"transparent"},
{"offset":0.8,"color":"#000"},{"offset":0.805,"color":"#000"},{"offset":0.805,"color":"transparent"},{"offset":0.82,"color":"transparent"},
{"offset":0.82,"color":"#000"},{"offset":0.825,"color":"#000"},{"offset":0.825,"color":"transparent"},{"offset":0.84,"color":"transparent"},
{"offset":0.84,"color":"#000"},{"offset":0.845,"color":"#000"},{"offset":0.845,"color":"transparent"},{"offset":0.86,"color":"transparent"},
{"offset":0.86,"color":"#000"},{"offset":0.865,"color":"#000"},{"offset":0.865,"color":"transparent"},{"offset":0.88,"color":"transparent"},
{"offset":0.88,"color":"#000"},{"offset":0.885,"color":"#000"},{"offset":0.885,"color":"transparent"},{"offset":0.9,"color":"transparent"},
{"offset":0.9,"color":"#000"},{"offset":0.905,"color":"#000"},{"offset":0.905,"color":"transparent"},{"offset":0.92,"color":"transparent"},
{"offset":0.92,"color":"#000"},{"offset":0.925,"color":"#000"},{"offset":0.925,"color":"transparent"},{"offset":0.94,"color":"transparent"},
{"offset":0.94,"color":"#000"},{"offset":0.945,"color":"#000"},{"offset":0.945,"color":"transparent"},{"offset":0.96,"color":"transparent"},
{"offset":0.96,"color":"#000"},{"offset":0.965,"color":"#000"},{"offset":0.965,"color":"transparent"},{"offset":0.98,"color":"transparent"},
{"offset":0.98,"color":"#000"},{"offset":0.985,"color":"#000"},{"offset":0.985,"color":"transparent"},{"offset":1,"color":"transparent"}
  ]}},
  "encoding": {"x": {"field": "x0", "type": "quantitative"}, "x2": {"field": "x1"}, "y": {"field": "uptake", "type": "quantitative"}, "y2": {"datum": 0}}}
]
}
